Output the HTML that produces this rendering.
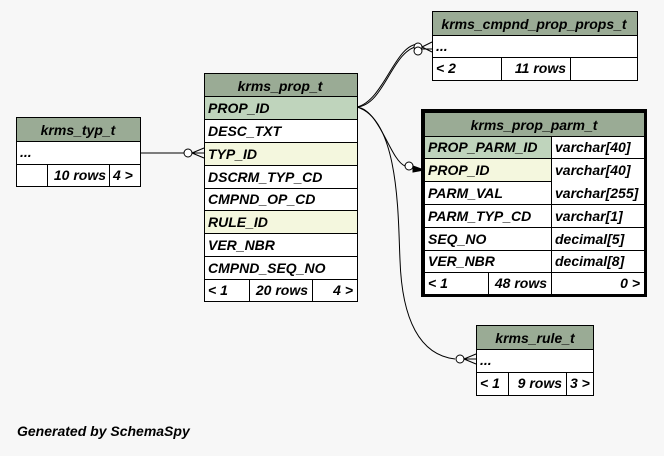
<!DOCTYPE html>
<html><head><style>
body{margin:0;background:#f7f7f7;}
svg text{font-family:"Liberation Sans",Arial,sans-serif;font-weight:bold;font-style:italic;font-size:14px;fill:#000;}
</style></head><body>
<svg width="664" height="451" viewBox="0 0 664 451" xmlns="http://www.w3.org/2000/svg">
<rect width="664" height="451" fill="#f7f7f7"/>
<g stroke="#000" stroke-width="1" fill="none">
<path d="M140,153 H184"/>
<circle cx="188" cy="153" r="4" fill="#fff"/>
<path d="M192,153 L204,148 M192,153 L204,158 M192,153 H204"/>
<path d="M357,107 C385,105 392,48 420,46"/>
<path d="M357,107 C385,100 395,42 420,44"/>
<circle cx="418" cy="47" r="4" fill="#fff"/>
<circle cx="418" cy="51" r="4" fill="#fff"/>
<path d="M422,47 L432,42 M422,47 L432,52 M422,49 H432"/>
<path d="M357,107 C380,110 390,160 405,166"/>
<circle cx="409" cy="166" r="4" fill="#fff"/>
<path d="M413,166 L424,170 L413,172 Z" fill="#000"/>
<path d="M357,107 C400,120 398,220 400,260 C402,320 420,355 455,359"/>
<circle cx="460" cy="359" r="4" fill="#fff"/>
<path d="M464,359 L476,354 M464,359 L476,364 M464,359 H476"/>
</g>

<!-- krms_typ_t -->
<g stroke="#000" stroke-width="1">
<rect x="16.5" y="117.5" width="124" height="69" fill="#fff"/>
<rect x="16.5" y="117.5" width="124" height="24" fill="#9aab95"/>
<line x1="16" y1="164.5" x2="140" y2="164.5"/>
<line x1="47.5" y1="164" x2="47.5" y2="186"/>
<line x1="109.5" y1="164" x2="109.5" y2="186"/>
</g>
<text x="78" y="135" text-anchor="middle">krms_typ_t</text>
<text x="20" y="157">...</text>
<text x="106" y="180" text-anchor="end">10 rows</text>
<text x="113" y="180">4 &gt;</text>

<!-- krms_prop_t -->
<g stroke="#000" stroke-width="1">
<rect x="204.5" y="73.5" width="153" height="228" fill="#fff"/>
<rect x="204.5" y="73.5" width="153" height="23" fill="#9aab95"/>
<rect x="204.5" y="96.5" width="153" height="23" fill="#bfd4bc"/>
<rect x="204.5" y="142.5" width="153" height="23" fill="#f4f7de"/>
<rect x="204.5" y="210.5" width="153" height="23" fill="#f4f7de"/>
<line x1="204" y1="119.5" x2="357" y2="119.5"/>
<line x1="204" y1="165.5" x2="357" y2="165.5"/>
<line x1="204" y1="188.5" x2="357" y2="188.5"/>
<line x1="204" y1="256.5" x2="357" y2="256.5"/>
<line x1="204" y1="279.5" x2="357" y2="279.5"/>
<line x1="249.5" y1="279" x2="249.5" y2="301"/>
<line x1="312.5" y1="279" x2="312.5" y2="301"/>
</g>
<text x="280" y="91" text-anchor="middle">krms_prop_t</text>
<text x="208" y="113">PROP_ID</text>
<text x="208" y="136">DESC_TXT</text>
<text x="208" y="159">TYP_ID</text>
<text x="208" y="182">DSCRM_TYP_CD</text>
<text x="208" y="204">CMPND_OP_CD</text>
<text x="208" y="227">RULE_ID</text>
<text x="208" y="250">VER_NBR</text>
<text x="208" y="273">CMPND_SEQ_NO</text>
<text x="208" y="295">&lt; 1</text>
<text x="308" y="295" text-anchor="end">20 rows</text>
<text x="353" y="295" text-anchor="end">4 &gt;</text>

<!-- krms_cmpnd_prop_props_t -->
<g stroke="#000" stroke-width="1">
<rect x="432.5" y="11.5" width="205" height="69" fill="#fff"/>
<rect x="432.5" y="11.5" width="205" height="24" fill="#9aab95"/>
<line x1="432" y1="57.5" x2="637" y2="57.5"/>
<line x1="501.5" y1="57" x2="501.5" y2="80"/>
<line x1="570.5" y1="57" x2="570.5" y2="80"/>
</g>
<text x="534" y="29" text-anchor="middle">krms_cmpnd_prop_props_t</text>
<text x="436" y="51">...</text>
<text x="436" y="73">&lt; 2</text>
<text x="566" y="73" text-anchor="end">11 rows</text>

<!-- krms_prop_parm_t -->
<rect x="421" y="109" width="226" height="188" fill="#000"/>
<g stroke="#000" stroke-width="1">
<rect x="424.5" y="112.5" width="220" height="182" fill="#fff"/>
<rect x="424.5" y="112.5" width="220" height="24" fill="#9aab95"/>
<rect x="424.5" y="136.5" width="127" height="22" fill="#bfd4bc"/>
<rect x="424.5" y="158.5" width="127" height="23" fill="#f4f7de"/>
<line x1="424" y1="158.5" x2="644" y2="158.5"/>
<line x1="424" y1="204.5" x2="644" y2="204.5"/>
<line x1="424" y1="227.5" x2="644" y2="227.5"/>
<line x1="424" y1="250.5" x2="644" y2="250.5"/>
<line x1="424" y1="272.5" x2="644" y2="272.5"/>
<line x1="551.5" y1="136" x2="551.5" y2="294"/>
<line x1="488.5" y1="272" x2="488.5" y2="294"/>
</g>
<text x="534" y="130" text-anchor="middle">krms_prop_parm_t</text>
<text x="428" y="152">PROP_PARM_ID</text>
<text x="428" y="175">PROP_ID</text>
<text x="428" y="198">PARM_VAL</text>
<text x="428" y="221">PARM_TYP_CD</text>
<text x="428" y="244">SEQ_NO</text>
<text x="428" y="266">VER_NBR</text>
<text x="555" y="152">varchar[40]</text>
<text x="555" y="175">varchar[40]</text>
<text x="555" y="198">varchar[255]</text>
<text x="555" y="221">varchar[1]</text>
<text x="555" y="244">decimal[5]</text>
<text x="555" y="266">decimal[8]</text>
<text x="428" y="288">&lt; 1</text>
<text x="547" y="288" text-anchor="end">48 rows</text>
<text x="640" y="288" text-anchor="end">0 &gt;</text>

<!-- krms_rule_t -->
<g stroke="#000" stroke-width="1">
<rect x="476.5" y="325.5" width="117" height="70" fill="#fff"/>
<rect x="476.5" y="325.5" width="117" height="24" fill="#9aab95"/>
<line x1="476" y1="372.5" x2="593" y2="372.5"/>
<line x1="508.5" y1="372" x2="508.5" y2="395"/>
<line x1="566.5" y1="372" x2="566.5" y2="395"/>
</g>
<text x="535" y="343" text-anchor="middle">krms_rule_t</text>
<text x="480" y="365">...</text>
<text x="480" y="388">&lt; 1</text>
<text x="562" y="388" text-anchor="end">9 rows</text>
<text x="570" y="388">3 &gt;</text>

<text x="17" y="436">Generated by SchemaSpy</text>
</svg>
</body></html>
